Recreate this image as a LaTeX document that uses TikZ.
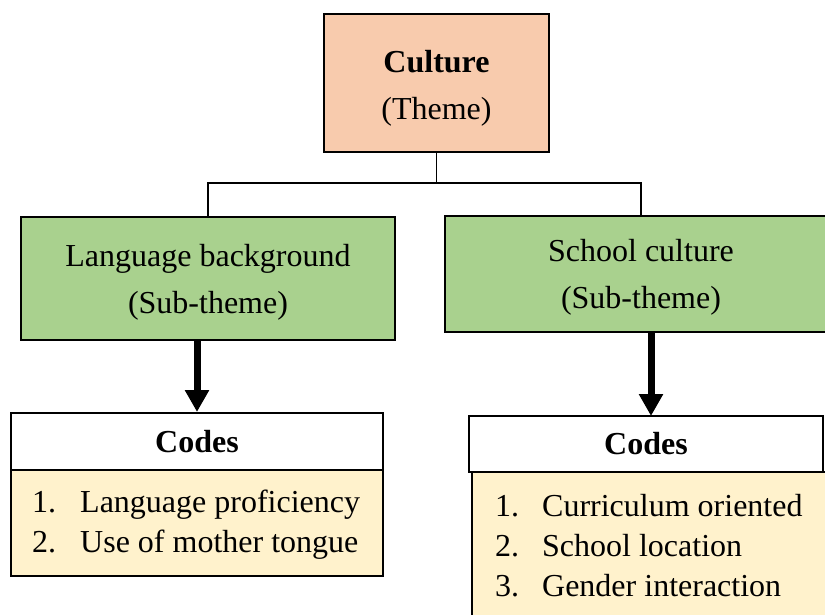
\documentclass[tikz,border=0pt]{standalone}
\usepackage{fontspec}
\setmainfont{Liberation Serif}
\usetikzlibrary{arrows.meta}
\definecolor{themefill}{HTML}{F8CBAD}
\definecolor{subfill}{HTML}{A9D18E}
\definecolor{codefill}{HTML}{FFF2CC}
\begin{document}
\begin{tikzpicture}[x=1pt,y=-1pt,
  every node/.style={font=\fontsize{32}{47}\selectfont},
  box/.style={draw=black, line width=2pt, inner sep=0pt, align=center},
  themebox/.style={box, fill=themefill, minimum width=225pt, minimum height=138pt},
  subbox/.style={box, fill=subfill},
  headbox/.style={box, fill=white, font=\fontsize{32}{40}\selectfont\bfseries},
  bodybox/.style={box, fill=codefill},
  items/.style={inner sep=0pt, align=left, font=\fontsize{32}{40}\selectfont},
  link/.style={line width=1.5pt},
  down/.style={line width=7pt, -{Triangle[length=22pt,width=23pt]}}
]
\useasboundingbox (0,0) rectangle (825,614);
\begin{scope}
\clip (0,0) rectangle (825,614);

% theme
\node[themebox] (culture) at (436.5,83) {\rule{0pt}{33pt}\textbf{Culture}\\(Theme)};

% sub-themes
\node[subbox, minimum width=374pt, minimum height=123pt] (lang) at (208,278.5)
  {\rule{0pt}{29pt}Language background\\(Sub-theme)};
\node[subbox, minimum width=392pt, minimum height=116pt] (school) at (641,274)
  {\rule{0pt}{29pt}School culture\\(Sub-theme)};

% code lists
\node[bodybox, minimum width=372pt, minimum height=106pt] (lbody) at (197,523) {};
\node[headbox, minimum width=372pt, minimum height=57pt] (lhead) at (197,441.5) {Codes};
\node[bodybox, minimum width=370pt, minimum height=170pt] (rbody) at (657,557) {};
\node[headbox, minimum width=354pt, minimum height=56pt] (rhead) at (646,444) {Codes};

\node[items, anchor=west] (litems) at (32,525)
  {\makebox[48pt][l]{1.}Language proficiency\\\makebox[48pt][l]{2.}Use of mother tongue};
\node[items, anchor=west] (ritems) at (495,546)
  {\makebox[47pt][l]{1.}Curriculum oriented\\\makebox[47pt][l]{2.}School location\\\makebox[47pt][l]{3.}Gender interaction};

% tree connectors
\coordinate (fork) at (436.5,183);
\draw[link] (culture.south) -- (fork);
\draw[link] (fork) -| (lang.north);
\draw[link] (fork) -| (school.north);

% arrows to the code lists
\coordinate (la) at (lhead.north |- lang.south);
\draw[down] (la) -- (lhead.north);
\coordinate (ra) at (651,332);
\coordinate (rt) at (651,416);
\draw[down] (ra) -- (rt);
\end{scope}
\end{tikzpicture}
\end{document}
